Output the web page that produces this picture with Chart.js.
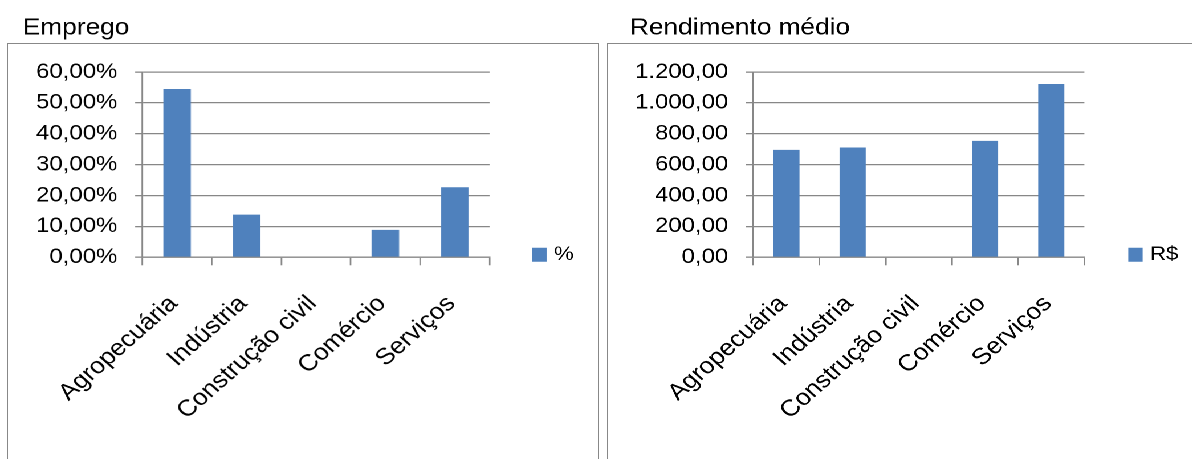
<!DOCTYPE html>
<html><head><meta charset="utf-8">
<script src="https://cdn.jsdelivr.net/npm/chart.js@4"></script>
<style>
html,body{margin:0;padding:0;background:#fff;overflow:hidden;width:1192px;height:459px;}
#stage{position:absolute;left:0;top:0;width:1046px;height:459px;transform:scaleX(1.14);transform-origin:0 0;}
.wrap{position:absolute;top:0;height:509.4px;}
.box{position:absolute;top:42.6px;height:430px;border:1.4px solid #888;border-bottom:none;box-sizing:border-box;}
</style></head><body>
<div class="box" style="left:6.6px;width:592.6px"></div>
<div class="box" style="left:607px;width:592px"></div>
<div id="stage">
  <div class="wrap" style="left:6.4px;width:518.6px"><canvas id="c1"></canvas></div>
  <div class="wrap" style="left:533.1px;width:518.4px"><canvas id="c2"></canvas></div>
</div>
<script>
// ---- data ----
const categories = ['Agropecuária', 'Indústria', 'Construção civil', 'Comércio', 'Serviços'];
const empregoValues = [54.5, 13.8, 0, 8.9, 22.7];          // %
const rendimentoValues = [696, 711, 0, 754, 1122];          // R$
const empregoAxis = { min: 0, max: 60, step: 10 };
const rendimentoAxis = { min: 0, max: 1200, step: 200 };
const empregoTitle = 'Emprego';
const rendimentoTitle = 'Rendimento médio';
const empregoLegend = '%';
const rendimentoLegend = 'R$';

// ---- styling ----
const FONT = "'Liberation Sans', Arial, sans-serif";
const GRID = '#878787';
const BAR = '#4F81BD';

function fmtBR(v) {
  const parts = Number(v).toFixed(2).split('.');
  return parts[0].replace(/\B(?=(\d{3})+(?!\d))/g, '.') + ',' + parts[1];
}

function makeChart(id, title, legendLabel, values, axis, suffix, lay) {
  return new Chart(document.getElementById(id), {
    type: 'bar',
    data: {
      labels: categories,
      datasets: [{
        label: legendLabel,
        data: values,
        backgroundColor: BAR,
        borderWidth: 0,
        barPercentage: 0.395,
        categoryPercentage: 1
      }]
    },
    options: {
      responsive: true,
      maintainAspectRatio: false,
      animation: false,
      devicePixelRatio: 2,
      layout: { padding: { left: lay.left, right: lay.right, top: 0, bottom: 0 } },
      plugins: {
        tooltip: { enabled: false },
        title: {
          display: true, text: title, align: 'start', color: '#000',
          font: { family: FONT, size: 23, weight: 'normal' },
          padding: { top: 14.5, bottom: 72 - 14.5 - 23 * 1.2 }
        },
        legend: {
          position: 'right',
          maxWidth: lay.legendWidth,
          labels: {
            boxWidth: 12.6, boxHeight: 14, padding: lay.legendPad, color: '#000',
            textAlign: 'right',
            font: { family: FONT, size: 19.5 }
          }
        }
      },
      scales: {
        x: {
          grid: { display: true, drawOnChartArea: false, offset: true, color: GRID, lineWidth: 1.3, tickLength: 8 },
          border: { color: GRID, width: 1.3 },
          ticks: { color: '#000', font: { family: FONT, size: 23 }, minRotation: 45, maxRotation: 45,
                   autoSkip: false, padding: 25, labelOffset: -3 },
          afterFit: (a) => { a.height = 252.1; }
        },
        y: {
          min: axis.min, max: axis.max,
          grid: { color: GRID, lineWidth: 1.3, tickLength: 6.5 },
          border: { color: GRID, width: 1.3 },
          ticks: {
            stepSize: axis.step, color: '#000', padding: 15.5,
            font: { family: FONT, size: 21 },
            callback: (v) => fmtBR(v) + suffix
          },
          afterFit: (a) => { a.width = lay.yWidth; }
        }
      }
    }
  });
}

makeChart('c1', empregoTitle, empregoLegend, empregoValues, empregoAxis, '%',
  { left: 14.0, right: 21.76, legendPad: 37.5, legendWidth: 73.84, yWidth: 104.8 });
makeChart('c2', rendimentoTitle, rendimentoLegend, rendimentoValues, rendimentoAxis, '',
  { left: 19.6, right: 17.78, legendPad: 38.5, legendWidth: 82.42, yWidth: 108.2 });
</script>
</body></html>
